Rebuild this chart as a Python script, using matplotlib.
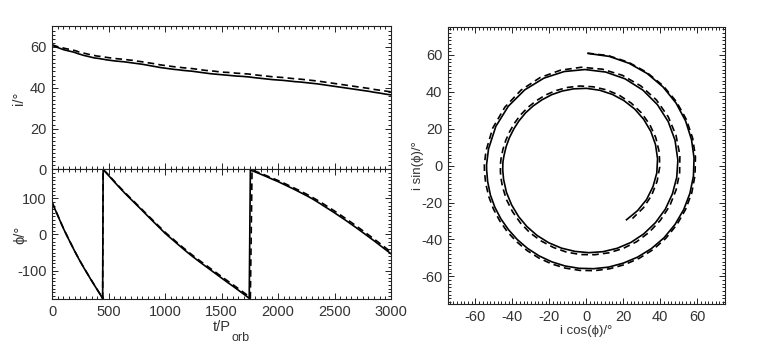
import numpy as np
import matplotlib
matplotlib.use('Agg')
import matplotlib.pyplot as plt
from matplotlib.ticker import MultipleLocator

plt.rcParams['font.family'] = ['Liberation Sans', 'DejaVu Sans']
plt.rcParams['axes.unicode_minus'] = False
plt.rcParams['font.size'] = 10.5

# time in orbital periods
t = [0, 15, 30, 45, 60, 75, 90, 105, 120, 135, 150, 165, 180, 195, 210, 225, 240, 255, 270,
     285, 300, 315, 330, 345, 360, 375, 390, 405, 420, 435, 448, 452,
     480, 520, 560, 600, 640, 680, 720, 760, 800, 840, 880, 920, 960, 1000, 1040, 1080,
     1120, 1160, 1200, 1240, 1280, 1320, 1360, 1400, 1440, 1480, 1520, 1560, 1600, 1640,
     1680, 1720, 1745, 1755,
     1770, 1800, 1850, 1900, 1950, 2000, 2050, 2100, 2150, 2200, 2250, 2300, 2350, 2400,
     2450, 2500, 2550, 2600, 2650, 2700, 2750, 2800, 2850, 2900, 2950, 3000]

# inclination (deg), solid run
i_solid = [60.8, 60.5, 60.1, 59.8, 59.5, 59.2, 58.9, 58.6, 58.4, 58.2, 58.0, 57.8, 57.6, 57.4,
           57.1, 56.8, 56.5, 56.3, 56.0, 55.8, 55.6, 55.4, 55.2, 55.0, 54.8, 54.6, 54.5, 54.4,
           54.3, 54.1, 54.0, 54.0,
           53.7, 53.4, 53.1, 52.9, 52.7, 52.4, 52.1, 51.8, 51.5, 51.1, 50.7, 50.3, 49.9, 49.6,
           49.3, 49.0, 48.8, 48.5, 48.3, 48.1, 47.8, 47.5, 47.2, 46.9, 46.7, 46.5, 46.3, 46.1,
           45.9, 45.7, 45.6, 45.4, 45.3, 45.2,
           45.1, 44.9, 44.6, 44.3, 44.0, 43.8, 43.6, 43.3, 43.0, 42.8, 42.5, 42.2, 41.9, 41.5,
           41.1, 40.7, 40.3, 39.9, 39.5, 39.1, 38.7, 38.3, 37.8, 37.4, 36.9, 36.5]

# inclination (deg), dashed run
i_dash = [61.0, 60.8, 60.5, 60.2, 60.0, 59.8, 59.6, 59.4, 59.2, 59.0, 58.9, 58.7, 58.5, 58.3,
          58.1, 57.8, 57.5, 57.3, 57.1, 56.9, 56.7, 56.5, 56.3, 56.1, 55.9, 55.8, 55.6, 55.5,
          55.4, 55.3, 55.2, 55.2,
          54.9, 54.6, 54.3, 54.1, 53.9, 53.6, 53.4, 53.0, 52.7, 52.3, 52.0, 51.6, 51.2, 50.9,
          50.6, 50.3, 50.1, 49.8, 49.6, 49.4, 49.1, 48.8, 48.5, 48.3, 48.1, 47.8, 47.6, 47.5,
          47.3, 47.1, 47.0, 46.8, 46.7, 46.6,
          46.5, 46.3, 46.0, 45.7, 45.4, 45.2, 45.0, 44.7, 44.4, 44.2, 43.9, 43.6, 43.3, 42.9,
          42.5, 42.1, 41.7, 41.3, 40.9, 40.5, 40.1, 39.7, 39.2, 38.8, 38.4, 38.0]

# precession angle (deg), solid run
phi_solid = [89, 78.2, 67.4, 56.6, 45.8, 35, 24.3, 13.9, 4.1, -5.6, -15, -24.3, -33.6, -43,
             -52, -60.8, -69.4, -77.8, -86, -94.1, -102, -109.8, -117.6, -125.4, -133, -140.5,
             -148, -155.5, -163, -170.8, -177.5, 179.5,
             170.3, 156.5, 142.6, 129, 115.8, 103.2, 90.8, 78.4, 66, 53.2, 40.7, 28.3, 16, 3.5,
             -7.3, -18.1, -28.9, -39.6, -50, -60, -69.7, -79.1, -88.3, -97.5, -106.7, -115.9,
             -125.1, -134.2, -143, -152.2, -161.4, -170.6, -177, 178.5,
             176.5, 173, 166.5, 160, 153, 146.5, 139, 131.5, 124, 116, 108, 99.5, 90, 80, 70,
             60, 49.5, 39, 28, 17, 5.5, -6, -17.5, -29.5, -41.5, -53.5]

# precession angle (deg), dashed run
phi_dash = [89.5, 78.7, 67.9, 57.1, 46.3, 35.5, 24.8, 14.4, 4.6, -5.1, -14.5, -23.8, -33.1,
            -42.5, -51.5, -60.3, -68.9, -77.3, -85.5, -93.6, -101.5, -109.3, -117.1, -124.9,
            -132.5, -140, -147.5, -155, -162.5, -170.3, -177, 179.8,
            171.8, 158.1, 144.3, 130.8, 117.7, 105.2, 92.9, 80.6, 68.3, 55.6, 43.2, 30.9, 18.7,
            6.3, -4.4, -15.1, -25.8, -36.4, -46.7, -56.6, -66.2, -75.5, -84.6, -93.7, -102.8,
            -111.9, -121, -130, -138.8, -147.9, -157, -166.2, -172.8, -176,
            179, 175, 169, 162.5, 156, 149.5, 142.5, 135, 127.5, 120, 112, 103.5, 94.5, 85, 75,
            65, 54.5, 44, 33, 22, 10.5, -1, -12.5, -24.5, -36.5, -49]

t = np.array(t)
i_solid = np.array(i_solid)
i_dash = np.array(i_dash)
phi_solid = np.array(phi_solid)
phi_dash = np.array(phi_dash)

txt = '#333333'
dash = (0, (4, 2.5))
lw = 1.2

fig = plt.figure(figsize=(7.63, 3.44), dpi=100)
ax1 = fig.add_axes([0.0682, 0.5073, 0.4443, 0.4157])
ax2 = fig.add_axes([0.0682, 0.1294, 0.4443, 0.3779])
ax3 = fig.add_axes([0.5868, 0.1163, 0.3634, 0.8044])


def style(ax, major_x, minor_x, major_y, minor_y):
    ax.xaxis.set_major_locator(MultipleLocator(major_x))
    ax.xaxis.set_minor_locator(MultipleLocator(minor_x))
    ax.yaxis.set_major_locator(MultipleLocator(major_y))
    ax.yaxis.set_minor_locator(MultipleLocator(minor_y))
    ax.tick_params(which='both', direction='in', top=True, right=True,
                   colors='#222222', labelcolor=txt, width=0.7, pad=4)
    ax.tick_params(which='major', length=4)
    ax.tick_params(which='minor', length=2)
    for s in ax.spines.values():
        s.set_linewidth(0.8)
        s.set_color('#222222')


# inclination vs time
ax1.plot(t, i_solid, color='black', lw=lw)
ax1.plot(t, i_dash, color='black', lw=lw, ls=dash)
ax1.set_xlim(0, 3000)
ax1.set_ylim(0, 70)
style(ax1, 500, 50, 20, 2)
ax1.tick_params(labelbottom=False)
ax1.set_ylabel('i/°', color=txt)
ax1.yaxis.set_label_coords(-0.076, 0.5)

# precession angle vs time
ax2.plot(t, phi_solid, color='black', lw=lw)
ax2.plot(t, phi_dash, color='black', lw=lw, ls=dash)
ax2.set_xlim(0, 3000)
ax2.set_ylim(-180, 180)
style(ax2, 500, 50, 100, 10)
ax2.set_ylabel('ϕ/°', color=txt)
ax2.yaxis.set_label_coords(-0.074, 0.5)
# IDL-style subscript: lower and larger than mathtext gives
ax2.set_xlabel('t/P', color=txt, labelpad=1)
ax2.annotate('orb', xy=(1, 0), xycoords=ax2.xaxis.label, xytext=(0.5, 2),
             textcoords='offset points', ha='left', va='top', fontsize=9, color=txt)

# i cos(phi) vs i sin(phi)
rad_s = np.radians(phi_solid)
rad_d = np.radians(phi_dash)
ax3.plot(i_solid * np.cos(rad_s), i_solid * np.sin(rad_s), color='black', lw=lw)
ax3.plot(i_dash * np.cos(rad_d), i_dash * np.sin(rad_d), color='black', lw=lw, ls=dash)
ax3.set_xlim(-75, 75)
ax3.set_ylim(-75, 75)
style(ax3, 20, 2, 20, 2)
ax3.set_xlabel('i cos(ϕ)/°', color=txt, fontsize=9.5, labelpad=1)
ax3.set_ylabel('i sin(ϕ)/°', color=txt, fontsize=9.5)
ax3.yaxis.set_label_coords(-0.085, 0.5)

fig.savefig('out.png', dpi=100)
